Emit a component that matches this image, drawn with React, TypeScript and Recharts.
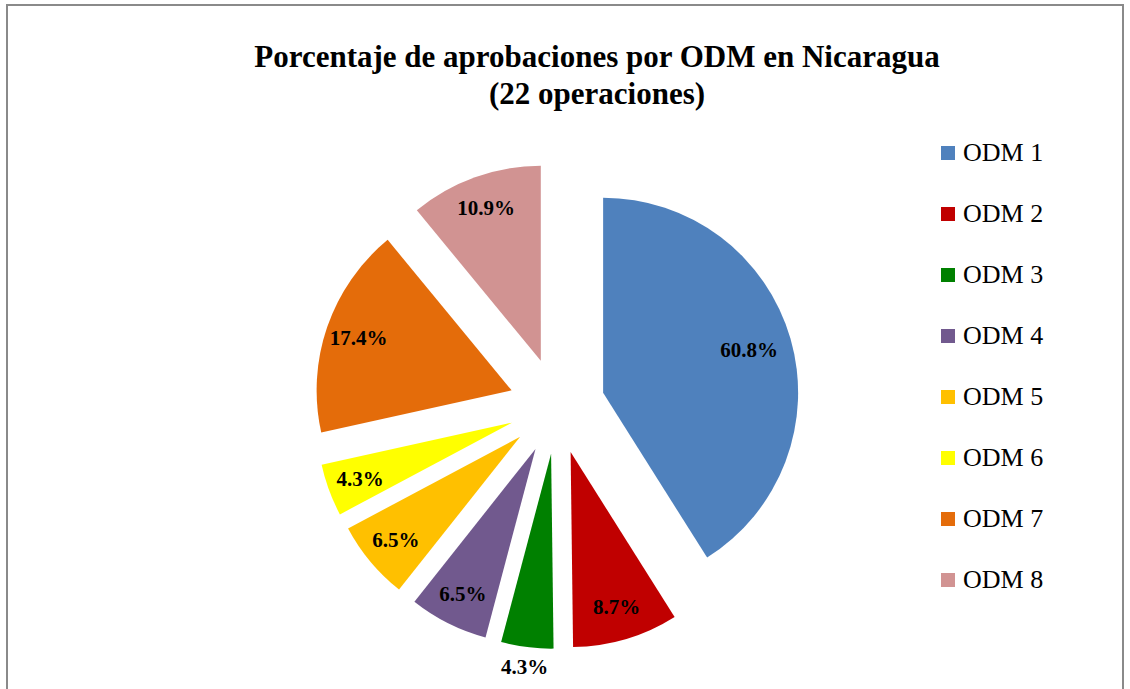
import { Legend, Pie, PieChart, Sector } from 'recharts';

const categories = ['ODM 1', 'ODM 2', 'ODM 3', 'ODM 4', 'ODM 5', 'ODM 6', 'ODM 7', 'ODM 8'];
// slice sizes as drawn in the picture
const sliceValues = [40.8, 8.7, 4.3, 6.5, 6.5, 4.3, 17.4, 10.9];
// label texts as printed on the picture
const labelTexts = ['60.8%', '8.7%', '4.3%', '6.5%', '6.5%', '4.3%', '17.4%', '10.9%'];
const colors = ['#4F81BD', '#C00000', '#008000', '#71598E', '#FFC000', '#FFFF00', '#E46C0A', '#D19392'];

const data = categories.map((name, i) => ({ name, value: sliceValues[i] }));

const FONT = '"Liberation Serif", "Times New Roman", serif';
const EXPLODE = 48;

const renderSlice = (props: any) => {
  const { cx, cy, outerRadius, startAngle, endAngle, midAngle, index } = props;
  const rad = (midAngle * Math.PI) / 180;
  const ox = cx + EXPLODE * Math.cos(rad);
  const oy = cy - EXPLODE * Math.sin(rad);
  // the smallest bottom slice has its label outside the slice
  const labelR = index === 2 ? outerRadius + 20 : index === 0 ? outerRadius * 0.78 : outerRadius * 0.83;
  const lx = ox + labelR * Math.cos(rad);
  const ly = oy - labelR * Math.sin(rad);
  return (
    <g>
      <Sector
        cx={ox}
        cy={oy}
        innerRadius={0}
        outerRadius={outerRadius}
        startAngle={startAngle}
        endAngle={endAngle}
        fill={colors[index]}
        stroke="none"
      />
      <text
        x={lx}
        y={ly}
        textAnchor="middle"
        dominantBaseline="central"
        fontFamily={FONT}
        fontWeight="bold"
        fontSize={21}
        fill="#000"
      >
        {labelTexts[index]}
      </text>
    </g>
  );
};

const renderLegend = (props: any) => {
  const { payload } = props;
  return (
    <div>
      {(payload || []).map((entry: any, i: number) => (
        <div key={entry.value} style={{ display: 'flex', alignItems: 'center', height: 61 }}>
          <span style={{ display: 'inline-block', width: 14, height: 14, background: colors[i], marginRight: 8 }} />
          <span style={{ fontFamily: FONT, fontSize: 26, color: '#000' }}>{entry.value}</span>
        </div>
      ))}
    </div>
  );
};

const App = () => {
  return (
    <div
      style={{
        position: 'absolute',
        left: 6,
        top: 4,
        width: 1114,
        height: 720,
        border: '2px solid #8a8a8a',
        background: '#fff',
      }}
    >
      <div
        style={{
          position: 'absolute',
          left: 189,
          top: 32,
          width: 800,
          textAlign: 'center',
          fontFamily: FONT,
          fontWeight: 'bold',
          fontSize: 31,
          lineHeight: '37px',
          color: '#000',
          zIndex: 1,
        }}
      >
        Porcentaje de aprobaciones por ODM en Nicaragua
        <br />
        (22 operaciones)
      </div>
      <PieChart width={1114} height={720}>
        <Pie
          data={data}
          dataKey="value"
          nameKey="name"
          cx={544}
          cy={395}
          outerRadius={195}
          startAngle={90}
          endAngle={-270}
          fill="transparent"
          stroke="none"
          label={renderSlice}
          labelLine={false}
          isAnimationActive={false}
        />
        <Legend
          content={renderLegend}
          wrapperStyle={{ position: 'absolute', left: 933, top: 116, width: 170 }}
        />
      </PieChart>
    </div>
  );
};

export default App;
